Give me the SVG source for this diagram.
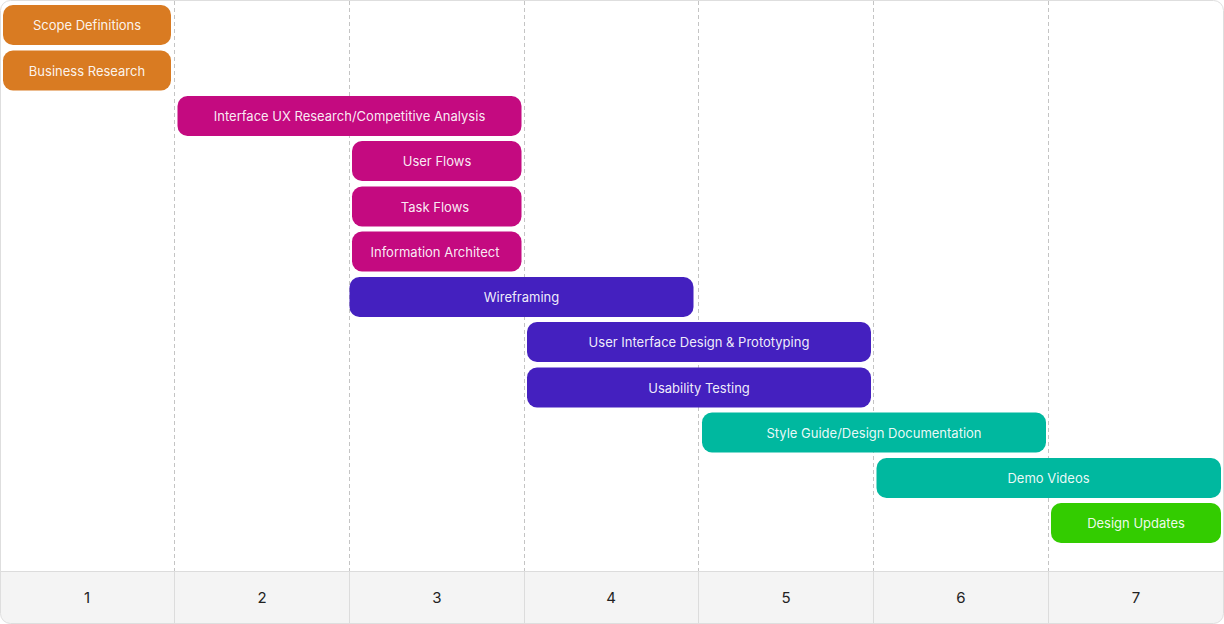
<svg xmlns="http://www.w3.org/2000/svg" width="1224" height="624" viewBox="0 0 1224 624">
<style>
.bar{stroke:none}
.lbl{font-family:Inter,"Noto Sans","Liberation Sans",sans-serif;font-size:13px;fill:#ffffff;fill-opacity:0.93;text-anchor:middle;dominant-baseline:central}
.num{font-family:Inter,"Noto Sans","Liberation Sans",sans-serif;font-size:15px;fill:#222222;text-anchor:middle;dominant-baseline:central}
.grid{stroke:#c4c4c4;stroke-width:1;stroke-dasharray:4 3;fill:none}
.sep{stroke:#dcdcdc;stroke-width:1;fill:none}
.o{fill:#D97B22}.m{fill:#C40A80}.p{fill:#4420BF}.t{fill:#00B89F}.g{fill:#33CC00}
</style>
<defs>
<clipPath id="frame"><rect x="0.5" y="0.5" width="1223" height="623" rx="10"/></clipPath>
</defs>
<rect x="0.5" y="0.5" width="1223" height="623" rx="10" fill="#ffffff"/>
<g id="footer" clip-path="url(#frame)">
<rect x="0" y="571" width="1224" height="53" fill="#f4f4f4"/>
<line class="sep" x1="0" y1="571.5" x2="1224" y2="571.5"/>
<line class="sep" x1="174.5" y1="571" x2="174.5" y2="624"/>
<line class="sep" x1="349.5" y1="571" x2="349.5" y2="624"/>
<line class="sep" x1="524.5" y1="571" x2="524.5" y2="624"/>
<line class="sep" x1="698.5" y1="571" x2="698.5" y2="624"/>
<line class="sep" x1="873.5" y1="571" x2="873.5" y2="624"/>
<line class="sep" x1="1048.5" y1="571" x2="1048.5" y2="624"/>
<text class="num" x="87" y="597">1</text>
<text class="num" x="262" y="597">2</text>
<text class="num" x="437" y="597">3</text>
<text class="num" x="611" y="597">4</text>
<text class="num" x="786" y="597">5</text>
<text class="num" x="961" y="597">6</text>
<text class="num" x="1136" y="597">7</text>
</g>
<g id="connectors">
<line class="grid" x1="174.5" y1="1" x2="174.5" y2="571"/>
<line class="grid" x1="349.5" y1="1" x2="349.5" y2="571"/>
<line class="grid" x1="524.5" y1="1" x2="524.5" y2="571"/>
<line class="grid" x1="698.5" y1="1" x2="698.5" y2="571"/>
<line class="grid" x1="873.5" y1="1" x2="873.5" y2="571"/>
<line class="grid" x1="1048.5" y1="1" x2="1048.5" y2="571"/>
</g>
<rect x="0.5" y="0.5" width="1223" height="623" rx="10" fill="none" stroke="#dedede"/>
<g id="scope"><rect class="bar o" x="3" y="5" width="168" height="40" rx="10"/><text class="lbl" x="87" y="25">Scope Definitions</text></g>
<g id="business"><rect class="bar o" x="3" y="50.5" width="168" height="40" rx="10"/><text class="lbl" x="87" y="70.5">Business Research</text></g>
<g id="interface"><rect class="bar m" x="177.5" y="96" width="344" height="40" rx="10"/><text class="lbl" x="349.5" y="116">Interface UX Research/Competitive Analysis</text></g>
<g id="userflows"><rect class="bar m" x="352" y="141" width="169.5" height="40" rx="10"/><text class="lbl" x="437" y="161">User Flows</text></g>
<g id="taskflows"><rect class="bar m" x="352" y="186.5" width="169.5" height="40" rx="10"/><text class="lbl" x="435" y="206.5">Task Flows</text></g>
<g id="infoarch"><rect class="bar m" x="352" y="231.5" width="169.5" height="40" rx="10"/><text class="lbl" x="435" y="251.5">Information Architect</text></g>
<g id="wireframing"><rect class="bar p" x="349.5" y="277" width="344" height="40" rx="10"/><text class="lbl" x="521.5" y="297">Wireframing</text></g>
<g id="uidesign"><rect class="bar p" x="527" y="322" width="344" height="40" rx="10"/><text class="lbl" x="699" y="342">User Interface Design &amp; Prototyping</text></g>
<g id="usability"><rect class="bar p" x="527" y="367.5" width="344" height="40" rx="10"/><text class="lbl" x="699" y="387.5">Usability Testing</text></g>
<g id="styleguide"><rect class="bar t" x="702" y="412.5" width="344" height="40" rx="10"/><text class="lbl" x="874" y="432.5">Style Guide/Design Documentation</text></g>
<g id="demo"><rect class="bar t" x="876.5" y="458" width="344.5" height="40" rx="10"/><text class="lbl" x="1048.5" y="478">Demo Videos</text></g>
<g id="updates"><rect class="bar g" x="1051" y="503" width="170" height="40" rx="10"/><text class="lbl" x="1136" y="523">Design Updates</text></g>
</svg>
